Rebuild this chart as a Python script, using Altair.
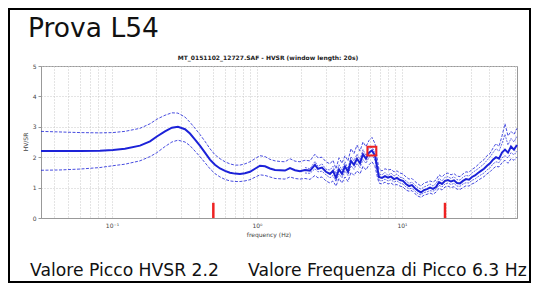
import altair as alt
import pandas as pd

# frequencies (Hz) of the curve samples
freq = [0.0324, 0.0438, 0.0602, 0.0827, 0.1016, 0.1229, 0.156, 0.183, 0.204, 0.232,
        0.259, 0.285, 0.319, 0.345, 0.374, 0.404, 0.438, 0.474, 0.513, 0.556,
        0.602, 0.651, 0.705, 0.763, 0.826, 0.895, 0.969, 1.049, 1.136, 1.229,
        1.331, 1.441, 1.560, 1.689, 1.829, 1.980, 2.143, 2.320, 2.512, 2.634,
        2.808, 2.991, 3.188, 3.343, 3.506, 3.678, 3.857, 4.045, 4.243, 4.449,
        4.667, 4.894, 5.133, 5.383, 5.646, 5.922, 6.211, 6.514, 6.724, 6.941,
        7.280, 7.635, 8.008, 8.399, 8.809, 9.238, 9.688, 10.16, 10.66, 11.18,
        11.72, 12.29, 12.89, 13.52, 14.18, 14.87, 15.60, 16.36, 17.16, 18.00,
        18.88, 19.80, 20.76, 21.78, 22.84, 23.95, 25.12, 26.34, 27.63, 28.98,
        30.39, 31.88, 33.43, 35.06, 36.78, 38.57, 40.45, 42.43, 44.50, 46.67,
        48.95, 51.33, 53.84, 56.46, 59.22, 62.11]

hv_mean = [2.20, 2.20, 2.20, 2.21, 2.24, 2.28, 2.38, 2.52, 2.68, 2.85,
           2.97, 3.00, 2.92, 2.78, 2.58, 2.38, 2.15, 1.92, 1.75, 1.63,
           1.55, 1.49, 1.46, 1.45, 1.47, 1.52, 1.62, 1.72, 1.70, 1.63,
           1.58, 1.57, 1.56, 1.64, 1.57, 1.54, 1.58, 1.56, 1.75, 1.62,
           1.66, 1.52, 1.45, 1.55, 1.32, 1.60, 1.45, 1.70, 1.52, 1.88,
           1.75, 1.95, 1.80, 2.10, 1.95, 2.15, 2.22, 2.05, 1.70, 1.35,
           1.32, 1.38, 1.33, 1.36, 1.28, 1.32, 1.25, 1.22, 1.12, 1.05,
           1.08, 0.98, 0.90, 0.84, 0.92, 0.95, 1.00, 0.96, 1.02, 1.18,
           1.12, 1.22, 1.25, 1.20, 1.24, 1.15, 1.14, 1.22, 1.28, 1.26,
           1.35, 1.40, 1.48, 1.55, 1.62, 1.72, 1.80, 1.92, 2.00, 1.95,
           2.15, 2.25, 2.15, 2.35, 2.25, 2.40]

hv_upper = [2.85, 2.83, 2.81, 2.80, 2.81, 2.85, 2.95, 3.10, 3.25, 3.38,
            3.46, 3.45, 3.32, 3.15, 2.95, 2.75, 2.52, 2.28, 2.08, 1.95,
            1.85, 1.78, 1.74, 1.74, 1.78, 1.85, 1.95, 2.05, 2.02, 1.93,
            1.88, 1.86, 1.85, 1.95, 1.87, 1.85, 1.90, 1.88, 2.10, 1.98,
            2.00, 1.85, 1.78, 1.90, 1.62, 1.98, 1.80, 2.05, 1.88, 2.28,
            2.12, 2.40, 2.20, 2.50, 2.35, 2.55, 2.65, 2.45, 2.00, 1.60,
            1.55, 1.62, 1.58, 1.60, 1.52, 1.55, 1.48, 1.45, 1.35, 1.28,
            1.30, 1.20, 1.12, 1.05, 1.15, 1.18, 1.22, 1.18, 1.25, 1.42,
            1.35, 1.45, 1.48, 1.42, 1.46, 1.38, 1.36, 1.45, 1.52, 1.50,
            1.60, 1.66, 1.75, 1.85, 1.92, 2.05, 2.12, 2.30, 2.45, 2.35,
            2.70, 3.10, 2.70, 2.85, 2.75, 2.95]

hv_lower = [1.57, 1.58, 1.61, 1.66, 1.72, 1.77, 1.88, 2.02, 2.15, 2.35,
            2.50, 2.56, 2.50, 2.38, 2.20, 2.02, 1.82, 1.62, 1.46, 1.35,
            1.27, 1.22, 1.20, 1.20, 1.22, 1.26, 1.34, 1.42, 1.40, 1.35,
            1.30, 1.29, 1.28, 1.35, 1.30, 1.28, 1.30, 1.27, 1.40, 1.32,
            1.35, 1.22, 1.15, 1.22, 1.05, 1.30, 1.15, 1.35, 1.20, 1.50,
            1.40, 1.55, 1.45, 1.70, 1.58, 1.75, 1.85, 1.70, 1.40, 1.15,
            1.12, 1.18, 1.12, 1.15, 1.08, 1.10, 1.05, 1.02, 0.92, 0.88,
            0.90, 0.80, 0.72, 0.68, 0.75, 0.78, 0.82, 0.78, 0.85, 0.98,
            0.92, 1.02, 1.05, 1.00, 1.03, 0.95, 0.94, 1.00, 1.06, 1.05,
            1.12, 1.16, 1.24, 1.30, 1.36, 1.45, 1.52, 1.62, 1.70, 1.68,
            1.82, 1.90, 1.80, 1.95, 1.90, 2.00]

# single-window curves visible in the noisy high-frequency part (from 2.143 Hz on)
win_freq = freq[36:]
hv_win1 = [1.66, 1.62, 1.86, 1.70, 1.78, 1.60, 1.58, 1.70, 1.45, 1.75,
           1.58, 1.85, 1.62, 2.02, 1.88, 2.10, 1.92, 2.25, 2.05, 2.30,
           2.32, 2.18, 1.80, 1.45, 1.42, 1.50, 1.40, 1.48, 1.38, 1.45,
           1.34, 1.32, 1.22, 1.14, 1.18, 1.08, 1.00, 0.95, 1.02, 1.06,
           1.12, 1.05, 1.14, 1.30, 1.22, 1.34, 1.36, 1.30, 1.36, 1.26,
           1.25, 1.34, 1.40, 1.38, 1.48, 1.55, 1.62, 1.70, 1.78, 1.90,
           2.00, 2.15, 2.28, 2.20, 2.45, 2.75, 2.40, 2.62, 2.50, 2.70]
hv_win2 = [1.48, 1.47, 1.62, 1.52, 1.54, 1.42, 1.32, 1.40, 1.20, 1.45,
           1.32, 1.55, 1.40, 1.72, 1.60, 1.80, 1.66, 1.92, 1.80, 2.00,
           2.08, 1.90, 1.55, 1.25, 1.22, 1.28, 1.22, 1.26, 1.18, 1.22,
           1.15, 1.12, 1.02, 0.96, 0.98, 0.88, 0.80, 0.76, 0.84, 0.86,
           0.90, 0.88, 0.94, 1.08, 1.02, 1.12, 1.15, 1.10, 1.14, 1.05,
           1.04, 1.12, 1.16, 1.15, 1.24, 1.28, 1.36, 1.42, 1.48, 1.58,
           1.65, 1.78, 1.85, 1.82, 1.98, 2.05, 1.98, 2.15, 2.08, 2.20]

peak_freq = [6.2]
peak_hv = [2.2]
limit_freq = [0.5, 19.8]
limit_base = [0.0, 0.0]
limit_height = [0.5, 0.5]

grid_ticks = [0.04, 0.05, 0.06, 0.07, 0.08, 0.09,
              0.1, 0.2, 0.3, 0.4, 0.5, 0.6, 0.7, 0.8, 0.9,
              1, 2, 3, 4, 5, 6, 7, 8, 9,
              10, 20, 30, 40, 50, 60]
y_ticks = [0, 1, 2, 3, 4, 5]

BLUE = "#1c22d8"

curves = pd.concat([
    pd.DataFrame({"f": freq, "hv": hv_mean, "s": "mean"}),
    pd.DataFrame({"f": freq, "hv": hv_upper, "s": "upper"}),
    pd.DataFrame({"f": freq, "hv": hv_lower, "s": "lower"}),
])
windows = pd.concat([
    pd.DataFrame({"f": win_freq, "hv": hv_win1, "s": "w1"}),
    pd.DataFrame({"f": win_freq, "hv": hv_win2, "s": "w2"}),
])

xs = alt.Scale(type="log", domain=[0.0324, 62.11], nice=False)
ys = alt.Scale(domain=[0, 5], nice=False)

x_axis = alt.Axis(values=grid_ticks, grid=True, gridDash=[1, 2], gridColor="#c8c8c8",
                  labelExpr="datum.value == 0.1 ? '10⁻¹' : datum.value == 1 ? '10⁰' : datum.value == 10 ? '10¹' : ''",
                  labelFontSize=6, labelColor="#444", labelFont="DejaVu Sans", labelPadding=4,
                  tickSize=0, domainColor="#999", title=None, labelFlush=False, labelOverlap=False)
y_axis = alt.Axis(values=y_ticks, tickCount=6, grid=True, gridDash=[1, 2], gridColor="#c8c8c8",
                  labelFontSize=6, labelColor="#444", labelFont="DejaVu Sans", labelPadding=2,
                  tickSize=3, tickColor="#999", domainColor="#999", title=None,
                  labelOverlap=False, labelFlush=False)


def X(field):
    return alt.X(field, scale=xs, axis=x_axis)


def Y(field):
    return alt.Y(field, scale=ys, axis=y_axis)


base = alt.Chart(curves)

mean_line = base.transform_filter("datum.s == 'mean'").mark_line(
    color=BLUE, strokeWidth=2).encode(x=X("f:Q"), y=Y("hv:Q"))

band_lines = base.transform_filter("datum.s != 'mean'").mark_line(
    color=BLUE, strokeWidth=1, strokeDash=[3, 1.5], opacity=0.8).encode(
    x=X("f:Q"), y=Y("hv:Q"), detail="s:N")

window_lines = alt.Chart(windows).mark_line(
    color=BLUE, strokeWidth=0.9, strokeDash=[2, 1], opacity=0.75).encode(
    x=X("f:Q"), y=Y("hv:Q"), detail="s:N")

limits = alt.Chart(pd.DataFrame({"f": limit_freq, "b": limit_base, "h": limit_height})).mark_rule(
    color="#ee2222", strokeWidth=2.5).encode(
    x=X("f:Q"), y=Y("b:Q"), y2="h:Q")

peak = alt.Chart(pd.DataFrame({"f": peak_freq, "hv": peak_hv})).mark_point(
    shape="square", size=80, filled=False, color="#ee2222", strokeWidth=2, opacity=1).encode(
    x=X("f:Q"), y=Y("hv:Q"))

one = pd.DataFrame({"a": [0]})


def label(text, x, y, size, align="left", baseline="alphabetic", weight="normal",
          color="#111", angle=0, font="DejaVu Sans"):
    return alt.Chart(one).mark_text(
        text=text, align=align, baseline=baseline, fontSize=size, fontWeight=weight,
        color=color, angle=angle, font=font).encode(x=alt.value(x), y=alt.value(y))


frame = alt.Chart(one).mark_rect(fill="transparent", stroke="black", strokeWidth=2).encode(
    x=alt.value(-32), x2=alt.value(489), y=alt.value(-57), y2=alt.value(216))

texts = [
    label("Prova L54", -13, -29, 26.5),
    label("MT_0151102_12727.SAF - HVSR (window length: 20s)", 227, -5, 6,
          align="center", baseline="bottom", weight="bold", color="#222"),
    label("HV/SR", -15, 76, 6, align="center", baseline="middle", angle=270, color="#444"),
    label("frequency (Hz)", 228, 169, 6, align="center", baseline="middle", color="#444"),
    label("Valore Picco HVSR 2.2", -11, 210, 17.2),
    label("Valore Frequenza di Picco 6.3 Hz", 207, 210, 17.2),
]

chart = alt.layer(mean_line, band_lines, window_lines, limits, peak, frame, *texts).properties(
    width=476, height=152,
    autosize=alt.AutoSizeParams(type="none"),
    padding={"left": 33, "top": 58, "right": 15, "bottom": 65},
    background="white",
).configure_view(stroke="#999", strokeWidth=1)

chart.save("out.html", embed_options={"renderer": "svg", "actions": False})
